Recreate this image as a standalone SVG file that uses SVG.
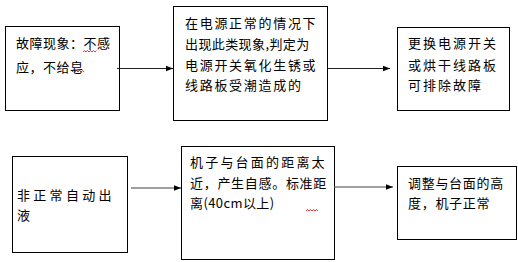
<svg xmlns="http://www.w3.org/2000/svg" width="518" height="262" viewBox="0 0 518 262">
<defs>
<marker id="ah" viewBox="0 0 10 10" refX="10" refY="5" markerWidth="7" markerHeight="7" markerUnits="userSpaceOnUse" orient="auto"><path d="M0,1 L10,5 L0,9 Z" fill="#000"/></marker>
<style>
.box{fill:#fff;stroke:#000;stroke-width:1}
.t{font-family:"Noto Sans CJK SC","Noto Sans",sans-serif;font-size:13px;fill:#000}
.c1{stroke:#222;stroke-width:1;fill:none}
.c2{stroke:#808080;stroke-width:1.5;fill:none}
.sq{stroke:#d00;stroke-width:0.8;fill:none}
</style>
</defs>
<rect width="518" height="262" fill="#fff"/>
<g id="node1">
<rect class="box" x="5.5" y="26.5" width="114" height="84"/>
<text class="t" x="16" y="48" letter-spacing="0.5">故障现象：不感</text>
<text class="t" x="16" y="72" letter-spacing="0.5">应，不给皂</text>
<path class="sq" d="M83,52 l1.5,-1.5 l1.5,1.5 l1.5,-1.5 l1.5,1.5 l1.5,-1.5 l1.5,1.5 l1.5,-1.5 l1.5,1.5 l1.5,-1.5"/>
<path class="sq" d="M72,72 l1.5,-1.5 l1.5,1.5 l1.5,-1.5 l1.5,1.5 l1.5,-1.5 l1.5,1.5 l1.5,-1.5 l1.5,1.5"/>
</g>
<g id="node2">
<rect class="box" x="173.5" y="6.5" width="154" height="114"/>
<text class="t" x="185" y="28" letter-spacing="1.7">在电源正常的情况下</text>
<text class="t" x="185" y="49" letter-spacing="0.4">出现此类现象,判定为</text>
<text class="t" x="185" y="70" letter-spacing="1.7">电源开关氧化生锈或</text>
<text class="t" x="185" y="90" letter-spacing="1.7">线路板受潮造成的</text>
</g>
<g id="node3">
<rect class="box" x="397.5" y="27.5" width="112" height="83"/>
<text class="t" x="408" y="48" letter-spacing="2">更换电源开关</text>
<text class="t" x="408" y="70" letter-spacing="2">或烘干线路板</text>
<text class="t" x="408" y="90" letter-spacing="2">可排除故障</text>
</g>
<g id="node4">
<rect class="box" x="12.5" y="156.5" width="115" height="96"/>
<text class="t" x="17" y="200" letter-spacing="3.3">非正常自动出</text>
<text class="t" x="17" y="220" letter-spacing="3.3">液</text>
</g>
<g id="node5">
<rect class="box" x="181.5" y="146.5" width="153" height="113"/>
<text class="t" x="190" y="167" letter-spacing="2.2">机子与台面的距离太</text>
<text class="t" x="190" y="188" letter-spacing="0.7">近，产生自感。标准距</text>
<text class="t" x="190" y="208" letter-spacing="0.4">离(40cm以上)</text>
<path class="sq" d="M306,211 l1.5,-1.5 l1.5,1.5 l1.5,-1.5 l1.5,1.5 l1.5,-1.5 l1.5,1.5 l1.5,-1.5 l1.5,1.5"/>
</g>
<g id="node6">
<rect class="box" x="397.5" y="166.5" width="119" height="73"/>
<text class="t" x="408" y="188" letter-spacing="0.7">调整与台面的高</text>
<text class="t" x="408" y="208" letter-spacing="0.7">度，机子正常</text>
</g>
<g id="connectors">
<line class="c1" x1="117" y1="68.5" x2="173" y2="68.5" marker-end="url(#ah)"/>
<line class="c1" x1="327.5" y1="68.5" x2="390" y2="68.5" marker-end="url(#ah)"/>
<line class="c2" x1="131" y1="188" x2="181" y2="188" marker-end="url(#ah)"/>
<line class="c2" x1="334.5" y1="187" x2="393" y2="187" marker-end="url(#ah)"/>
</g>
</svg>
